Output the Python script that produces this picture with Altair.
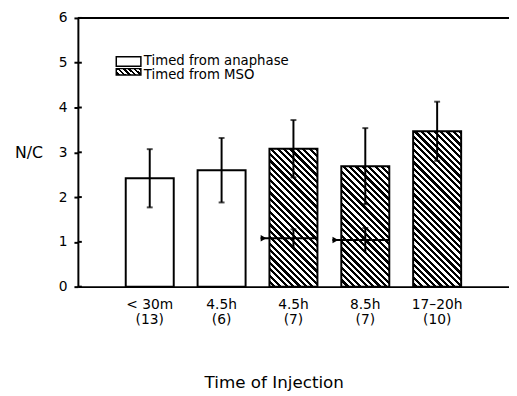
import math
import altair as alt
import pandas as pd

# ---------------- data ----------------
times = ["< 30m", "4.5h", "4.5h", "8.5h", "17–20h"]
counts = ["(13)", "(6)", "(7)", "(7)", "(10)"]
groups = ["Timed from anaphase", "Timed from anaphase",
          "Timed from MSO", "Timed from MSO", "Timed from MSO"]
means = [2.42, 2.60, 3.08, 2.69, 3.47]
errors = [0.65, 0.72, 0.64, 0.85, 0.66]

# small inner markers (arrow + error bar) inside two hatched bars
inner_bars = [2, 3]
inner_means = [1.08, 1.04]
inner_errors = [0.20, 0.27]

y_ticks = [0, 1, 2, 3, 4, 5, 6]
legend_labels = ["Timed from anaphase", "Timed from MSO"]

# ---------------- layout / style ----------------
W, H = 438, 273
P_IN, P_OUT = 0.332, 0.666
FONT = "DejaVu Sans"

cats = [f"{t}|{c}" for t, c in zip(times, counts)]
df = pd.DataFrame({"cat": cats, "group": groups, "mean": means, "err": errors})
df["lo"] = df["mean"] - df["err"]
df["hi"] = df["mean"] + df["err"]

inner_df = pd.DataFrame({
    "cat": [cats[i] for i in inner_bars],
    "m": inner_means,
    "e": inner_errors,
})
inner_df["lo"] = inner_df["m"] - inner_df["e"]
inner_df["hi"] = inner_df["m"] + inner_df["e"]

ymax = max(y_ticks)
top_df = pd.DataFrame({"v": [ymax]})
tick_df = pd.DataFrame({"t": y_ticks})
leg_df = pd.DataFrame({"label": legend_labels})


def hatch(w, h, spacing=6.5, ink=0.5):
    """Linear gradient with hard stops giving 45deg '\\' hatching on a w x h box."""
    r = w / h
    k = (r + 1) / (r * r + 1)
    n = (w + h) / spacing
    stops = []
    for i in range(int(math.ceil(n))):
        a = min(i / n, 1.0)
        b = min((i + ink) / n, 1.0)
        c = min((i + 1) / n, 1.0)
        stops += [{"offset": a, "color": "black"}, {"offset": b, "color": "black"},
                  {"offset": b, "color": "white"}, {"offset": c, "color": "white"}]
    return {"gradient": "linear", "x1": 1, "y1": 0, "x2": 1 - k * r, "y2": k,
            "stops": stops}


step = W / (len(cats) - P_IN + 2 * P_OUT)
bandw = step * (1 - P_IN)
leg_hatch = hatch(25, 7, spacing=5.5)

x_scale = alt.Scale(paddingInner=P_IN, paddingOuter=P_OUT)
x_axis = alt.Axis(title="Time of Injection", labelExpr="split(datum.value, '|')",
                  labelAngle=0, ticks=False, tickSize=0, domainColor="black",
                  domainWidth=2, labelFont=FONT, labelFontSize=14, labelColor="black",
                  labelPadding=11, labelLineHeight=15, labelBaseline="top",
                  titleFont=FONT, titleFontSize=17, titleFontWeight="normal",
                  titleColor="black", titleY=102, titleBaseline="alphabetic",
                  titleX=199, titleAlign="center", grid=False)
y_axis = alt.Axis(title="N/C", values=y_ticks, titleAngle=0, titleAlign="right",
                  titleBaseline="middle", titleX=-36, titleY=137, titleFont=FONT,
                  titleFontSize=16, titleFontWeight="normal", titleColor="black",
                  tickSize=4, tickWidth=2, tickColor="black", domainColor="black",
                  domainWidth=2, labelFont=FONT, labelFontSize=14, labelColor="black",
                  labelPadding=7, grid=False)
y_scale = alt.Scale(domain=[0, ymax], nice=False)


def X(**kw):
    return alt.X("cat:N", sort=cats, scale=x_scale, axis=x_axis, **kw)


def Y(field):
    return alt.Y(field, scale=y_scale, axis=y_axis)


base = alt.Chart(df)

white_bars = base.transform_filter(alt.datum.group == groups[0]).mark_bar(
    fill="white", stroke="black", strokeWidth=2
).encode(x=X(), y=Y("mean:Q"))

# hatched bars: one layer per bar so the hatch keeps 45 degrees
hatched_layers = []
for cat, grp, m in zip(cats, groups, means):
    if grp != groups[2]:
        continue
    hpx = m / ymax * H
    hatched_layers.append(
        base.transform_filter(alt.datum.cat == cat).mark_bar(
            fill=hatch(bandw, hpx), stroke="black", strokeWidth=2
        ).encode(x=X(), y=Y("mean:Q"))
    )

err_rule = base.mark_rule(color="black", strokeWidth=2).encode(
    x=X(), y=Y("lo:Q"), y2="hi:Q")
err_top = base.mark_tick(color="black", size=6, thickness=2).encode(
    x=X(), y=Y("hi:Q"))
err_bot = base.mark_tick(color="black", size=6, thickness=2).encode(
    x=X(), y=Y("lo:Q"))

ib = alt.Chart(inner_df)
inner_line = ib.mark_rule(color="black", strokeWidth=2, xOffset=-9).encode(
    x=X(bandPosition=0), x2=alt.X2("cat", bandPosition=1), y=Y("m:Q"))
inner_arrow = ib.mark_point(shape="triangle-right", filled=True, color="black",
                            size=45, opacity=1, xOffset=-6).encode(
    x=X(bandPosition=0), y=Y("m:Q"))
inner_err = ib.mark_rule(color="black", strokeWidth=2).encode(
    x=X(), y=Y("lo:Q"), y2="hi:Q")
inner_cap = ib.mark_tick(color="black", size=6, thickness=2).encode(
    x=X(), y=Y("hi:Q"))

top_rule = alt.Chart(top_df).mark_rule(color="black", strokeWidth=2).encode(
    y=Y("v:Q"))
inner_ticks = alt.Chart(tick_df).mark_rule(color="black", strokeWidth=2).encode(
    x=alt.value(0), x2=alt.value(4), y=Y("t:Q"))

lb = alt.Chart(leg_df)
leg_box1 = lb.transform_filter(alt.datum.label == legend_labels[0]).mark_rect(
    fill="white", stroke="black", strokeWidth=1.5
).encode(x=alt.value(39), x2=alt.value(64), y=alt.value(39.5), y2=alt.value(49))
leg_box2 = lb.transform_filter(alt.datum.label == legend_labels[1]).mark_rect(
    fill=leg_hatch, stroke="black", strokeWidth=1.5
).encode(x=alt.value(39), x2=alt.value(64), y=alt.value(51.5), y2=alt.value(58))
leg_txt1 = lb.transform_filter(alt.datum.label == legend_labels[0]).mark_text(
    align="left", baseline="alphabetic", font=FONT, fontSize=13.5, color="black"
).encode(x=alt.value(67), y=alt.value(48), text="label:N")
leg_txt2 = lb.transform_filter(alt.datum.label == legend_labels[1]).mark_text(
    align="left", baseline="alphabetic", font=FONT, fontSize=13.5, color="black"
).encode(x=alt.value(67), y=alt.value(62), text="label:N")

chart = alt.layer(
    white_bars, *hatched_layers,
    err_rule, err_top, err_bot,
    inner_line, inner_arrow, inner_err, inner_cap,
    top_rule, inner_ticks,
    leg_box1, leg_box2, leg_txt1, leg_txt2,
).properties(
    width=W, height=H,
    autosize=alt.AutoSizeParams(type="none"),
    padding={"left": 71, "top": 7, "right": 0, "bottom": 108},
    background="white",
).configure_view(stroke=None)

chart.save("out.html", embed_options={"renderer": "svg", "actions": False})
